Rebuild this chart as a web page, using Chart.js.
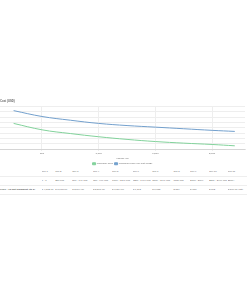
<!DOCTYPE html>
<html>
<head>
<meta charset="utf-8">
<script src="https://cdn.jsdelivr.net/npm/chart.js@4.4.1/dist/chart.umd.min.js"></script>
<style>
    body { margin: 0; background: #fff; font-family: "Liberation Sans", Arial, sans-serif; }
    #chart-wrap { position: absolute; left: 0; top: 96.5px; width: 247px; height: 78px; }
    #price-table { position: absolute; left: 0; top: 167.5px; border-collapse: collapse; table-layout: fixed; font-size: 2.5px; color: #666; white-space: nowrap; background: #fff; }
    #price-table td, #price-table th { font-weight: normal; text-align: left; padding: 0; height: 8.2px; overflow: hidden; border-bottom: 0.5px solid #eee; }
    #price-table td.label { font-weight: bold; color: #555; }
</style>
</head>
<body>
<div id="chart-wrap"><canvas id="price-chart"></canvas></div>
<table id="price-table">
    <colgroup>
        <col style="width:43px"><col style="width:14px"><col style="width:18px"><col style="width:22px"><col style="width:20px"><col style="width:21px"><col style="width:20px"><col style="width:22px"><col style="width:18px"><col style="width:20px"><col style="width:19px"><col style="width:20px">
    </colgroup>
    <tbody id="price-table-body"></tbody>
</table>

<script>
    // chart data
    let quantities = [250, 500, 750, 1000, 1250, 1500, 1750, 2000, 2200];
    let min_price = [48, 36, 29, 23, 18, 14, 11, 8.5, 6];
    let max_price = [72, 61, 54, 48, 44, 41, 38, 35, 33];
    let x_ticks = [500, 1000, 1500, 2000];
    let series_labels = ['Minimum price', 'Maximum price per unit (USD)'];

    // table data
    let table_header = ['Tier 1', 'Tier 2', 'Tier 3', 'Tier 4', 'Tier 5', 'Tier 6', 'Tier 7', 'Tier 8', 'Tier 9', 'Tier 10', 'Tier 11'];
    let table_ranges = ['1 - 1', '250 pcs', '500 - 749 pcs', '750 - 999 pcs', '1000 - 1249 pcs', '1250 - 1499 pcs', '1500 - 1749 pcs', '1750 pcs', '2000 - 2199', '2200 - 2499 pcs', '2500+'];
    let table_prices = ['$ 4,812.00', '$ 3,615.00', '$ 2,894.00', '$ 2,297.00', '$ 1,814.00', '$ 1,392', '$ 1,085', '$ 854', '$ 733', '$ 602', '$ 590.00 (est)'];
    let price_label = 'Price - 1x unit shipment (to x)';

    function build_table() {
        let rows = [['', table_header, 'th'], ['', table_ranges, 'td'], [price_label, table_prices, 'td']];
        let html = '';
        rows.forEach(function(r) {
            html += '<tr><td class="label">' + r[0] + '</td>';
            r[1].forEach(function(v) { html += '<' + r[2] + '>' + v + '</' + r[2] + '>'; });
            html += '</tr>';
        });
        document.getElementById('price-table-body').innerHTML = html;
    }

    function create_price_chart() {
        let ctx = document.getElementById('price-chart');
        new Chart(ctx, {
            type: 'line',
            data: {
                datasets: [{
                    label: series_labels[0],
                    data: quantities.map((q, i) => ({x: q, y: min_price[i]})),
                    borderColor: 'rgb(130, 210, 155)',
                    backgroundColor: 'rgb(130, 210, 155)',
                    borderWidth: 1,
                    pointRadius: 0,
                    tension: 0.4
                }, {
                    label: series_labels[1],
                    data: quantities.map((q, i) => ({x: q, y: max_price[i]})),
                    borderColor: 'rgb(115, 160, 205)',
                    backgroundColor: 'rgb(115, 160, 205)',
                    borderWidth: 1,
                    pointRadius: 0,
                    tension: 0.4
                }]
            },
            options: {
                responsive: true,
                maintainAspectRatio: false,
                animation: false,
                layout: { padding: { left: 0, right: 2, top: 0, bottom: 0 } },
                plugins: {
                    title: {
                        display: true,
                        text: 'Cost (USD)',
                        align: 'start',
                        color: '#666',
                        font: { size: 2.8 },
                        padding: { top: 3, bottom: 3 }
                    },
                    legend: {
                        position: 'bottom',
                        labels: { boxWidth: 3, boxHeight: 2, font: { size: 2.5 }, padding: 1.5, color: '#666' }
                    },
                    tooltip: { enabled: false }
                },
                scales: {
                    x: {
                        type: 'linear',
                        min: 130,
                        max: 2290,
                        afterBuildTicks: function(axis) { axis.ticks = x_ticks.map(v => ({value: v})); },
                        ticks: { font: { size: 2.5 }, color: '#666', padding: 1 },
                        grid: { color: '#eee', tickLength: 2 },
                        title: { display: true, text: 'Volume (M)', font: { size: 2.5 }, color: '#666', padding: 1 }
                    },
                    y: {
                        min: 0,
                        max: 80,
                        ticks: { display: false, stepSize: 10 },
                        grid: { color: '#eee', drawTicks: false },
                        border: { display: false }
                    }
                }
            }
        });
    }

    build_table();
    create_price_chart();
</script>
</body>
</html>
